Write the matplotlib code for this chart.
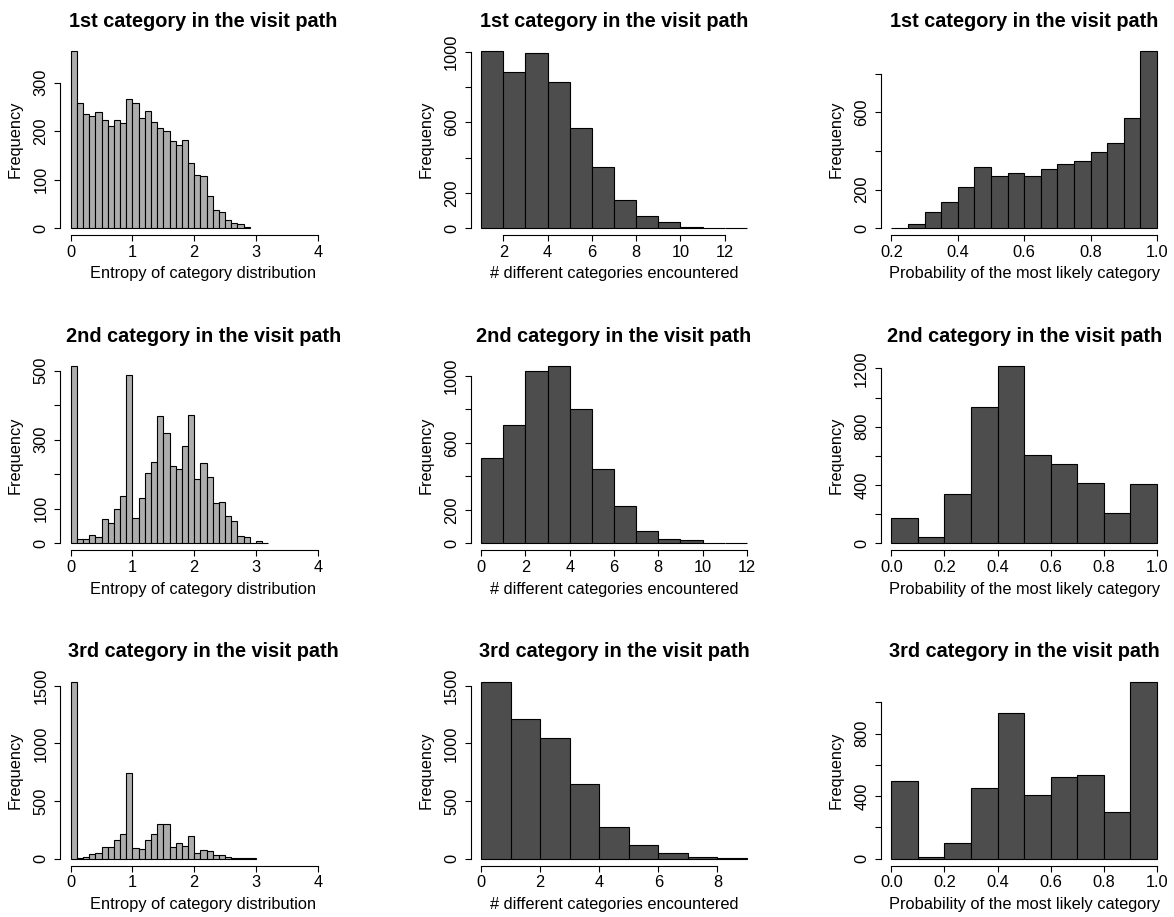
import numpy as np
import matplotlib.pyplot as plt

plt.rcParams['font.family'] = ['Liberation Sans', 'DejaVu Sans']

titles = ["1st category in the visit path",
          "2nd category in the visit path",
          "3rd category in the visit path"]

# entropy of category distribution, bins of 0.1 from 0
entropy_1st = [365, 258, 236, 232, 240, 222, 210, 223, 217, 267, 258, 228, 242, 219, 207,
               200, 179, 171, 181, 135, 109, 107, 66, 38, 33, 17, 10, 9, 2]
entropy_2nd = [513, 12, 12, 23, 19, 71, 59, 99, 136, 488, 73, 132, 204, 236, 369, 320,
               223, 214, 282, 372, 186, 234, 191, 118, 121, 78, 65, 21, 17, 2, 8, 2]
entropy_3rd = [1535, 6, 17, 38, 49, 104, 104, 159, 217, 743, 90, 81, 159, 211, 298, 303,
               98, 133, 107, 197, 49, 72, 64, 32, 29, 12, 9, 6, 3, 3]

# number of different categories encountered, unit bins
ncat_1st = [1004, 887, 991, 830, 568, 345, 160, 68, 38, 9, 4, 2]   # from 1
ncat_2nd = [512, 705, 1030, 1058, 801, 446, 225, 76, 24, 18, 2, 4]  # from 0
ncat_3rd = [1535, 1208, 1049, 650, 272, 116, 46, 14, 3]             # from 0

# probability of the most likely category
prob_1st = [3, 22, 83, 138, 213, 317, 270, 284, 268, 305, 332, 346, 393, 439, 573, 917]  # 0.05 bins from 0.2
prob_2nd = [172, 41, 336, 934, 1215, 604, 542, 416, 211, 410]   # 0.1 bins from 0
prob_3rd = [495, 13, 98, 452, 932, 407, 522, 537, 296, 1132]

entropy_xticks = [0, 1, 2, 3, 4]
prob_xticks_1st = [0.2, 0.4, 0.6, 0.8, 1.0]
prob_xticks = [0.0, 0.2, 0.4, 0.6, 0.8, 1.0]

LIGHT = '#ADADAD'
DARK = '#4D4D4D'
FS = 11.8


def draw_hist(ax, counts, start, width, color, xrange_, xticks, xfmt,
              yticks, ylabeled, xlabel, title):
    lefts = start + width * np.arange(len(counts))
    ax.bar(lefts, counts, width=width, align='edge', color=color,
           edgecolor='black', linewidth=0.8)
    lo, hi = xrange_
    pad = 0.04 * (hi - lo)
    ax.set_xlim(lo - pad, hi + pad)
    top = max(counts)
    ax.set_ylim(-0.04 * top, 1.04 * top)

    ax.set_xticks(xticks)
    ax.set_xticklabels([xfmt.format(t) for t in xticks], fontsize=FS)
    ax.set_yticks(yticks)
    ax.set_yticklabels([str(t) if t in ylabeled else '' for t in yticks],
                       rotation=90, va='center', fontsize=FS)
    ax.tick_params(axis='x', length=4.3, width=0.8, pad=2.5)
    ax.tick_params(axis='y', length=4.3, width=0.8, pad=4)

    for s in ['top', 'right']:
        ax.spines[s].set_visible(False)
    ax.spines['left'].set_bounds(yticks[0], yticks[-1])
    ax.spines['bottom'].set_bounds(xticks[0], xticks[-1])
    ax.spines['left'].set_linewidth(0.8)
    ax.spines['bottom'].set_linewidth(0.8)

    ax.set_xlabel(xlabel, fontsize=FS)
    ax.xaxis.set_label_coords(0.5, -0.163)
    ax.set_ylabel('Frequency', fontsize=FS)
    ax.yaxis.set_label_coords(-0.13, 0.5)
    ax.set_title(title, fontsize=14.3, fontweight='bold', pad=12.5)


fig = plt.figure(figsize=(11.74, 9.17), dpi=100)
lefts = [60 / 1174, 470.5 / 1174, 880.7 / 1174]
bottoms = [(917 - 235.3) / 917, (917 - 550.4) / 917, (917 - 865.8) / 917]
w = 287 / 1174
h = 191.3 / 917
axes = [[fig.add_axes([l, b, w, h]) for l in lefts] for b in bottoms]

ent_label = 'Entropy of category distribution'
ncat_label = '# different categories encountered'
prob_label = 'Probability of the most likely category'

draw_hist(axes[0][0], entropy_1st, 0, 0.1, LIGHT, (0, 4.3), entropy_xticks, '{:d}',
          [0, 100, 200, 300], [0, 100, 200, 300], ent_label, titles[0])
draw_hist(axes[1][0], entropy_2nd, 0, 0.1, LIGHT, (0, 4.3), entropy_xticks, '{:d}',
          [0, 100, 200, 300, 400, 500], [0, 100, 300, 500], ent_label, titles[1])
draw_hist(axes[2][0], entropy_3rd, 0, 0.1, LIGHT, (0, 4.3), entropy_xticks, '{:d}',
          [0, 500, 1000, 1500], [0, 500, 1000, 1500], ent_label, titles[2])

draw_hist(axes[0][1], ncat_1st, 1, 1, DARK, (1, 13), [2, 4, 6, 8, 10, 12], '{:d}',
          [0, 200, 400, 600, 800, 1000], [0, 200, 600, 1000], ncat_label, titles[0])
draw_hist(axes[1][1], ncat_2nd, 0, 1, DARK, (0, 12), [0, 2, 4, 6, 8, 10, 12], '{:d}',
          [0, 200, 400, 600, 800, 1000], [0, 200, 600, 1000], ncat_label, titles[1])
draw_hist(axes[2][1], ncat_3rd, 0, 1, DARK, (0, 9), [0, 2, 4, 6, 8], '{:d}',
          [0, 500, 1000, 1500], [0, 500, 1000, 1500], ncat_label, titles[2])

draw_hist(axes[0][2], prob_1st, 0.2, 0.05, DARK, (0.2, 1.0), prob_xticks_1st, '{:.1f}',
          [0, 200, 400, 600, 800], [0, 200, 600], prob_label, titles[0])
draw_hist(axes[1][2], prob_2nd, 0.0, 0.1, DARK, (0.0, 1.0), prob_xticks, '{:.1f}',
          [0, 200, 400, 600, 800, 1000, 1200], [0, 400, 800, 1200], prob_label, titles[1])
draw_hist(axes[2][2], prob_3rd, 0.0, 0.1, DARK, (0.0, 1.0), prob_xticks, '{:.1f}',
          [0, 200, 400, 600, 800, 1000], [0, 400, 800], prob_label, titles[2])

fig.savefig('out.png', dpi=100)
